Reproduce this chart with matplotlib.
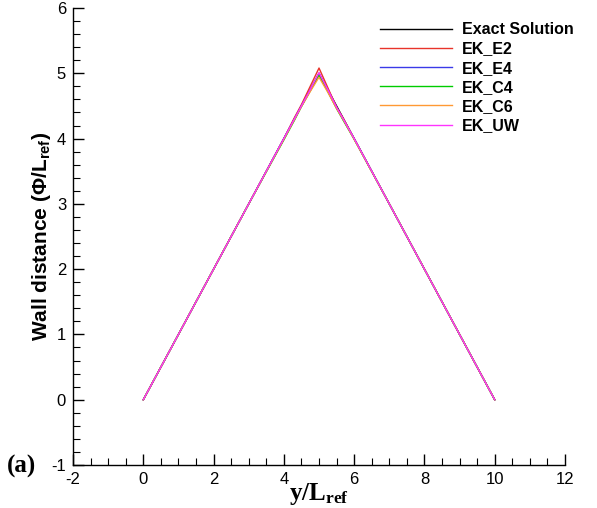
import matplotlib.pyplot as plt
import numpy as np
from matplotlib.ticker import MultipleLocator

plt.rcParams['axes.unicode_minus'] = False
plt.rcParams['mathtext.fontset'] = 'custom'
plt.rcParams['mathtext.rm'] = 'Liberation Serif'
plt.rcParams['mathtext.bf'] = 'Liberation Serif:bold'
plt.rcParams['mathtext.sf'] = 'Liberation Sans:bold'

# sampled wall-distance profiles along y
y_exact = [0.0, 5.0, 10.0]
phi_exact = [0.0, 5.0, 0.0]

y_pts = [0.0, 1.0, 2.0, 3.0, 4.0, 4.3, 4.5, 4.75, 5.0, 5.25, 5.5, 5.7, 6.0, 7.0, 8.0, 9.0, 10.0]
phi_e2 = [0.0, 1.0, 2.0, 3.0, 4.0, 4.32, 4.52, 4.8, 5.08, 4.78, 4.48, 4.3, 4.0, 3.0, 2.0, 1.0, 0.0]
phi_e4 = [0.0, 1.0, 2.0, 3.0, 4.0, 4.3, 4.5, 4.74, 5.0, 4.74, 4.47, 4.28, 4.0, 3.0, 2.0, 1.0, 0.0]
phi_c4 = [0.0, 1.0, 2.0, 3.0, 3.98, 4.28, 4.49, 4.73, 4.97, 4.72, 4.46, 4.27, 3.99, 3.0, 2.0, 1.0, 0.0]
phi_c6 = [0.0, 1.0, 2.0, 3.0, 3.99, 4.29, 4.49, 4.72, 4.94, 4.71, 4.46, 4.28, 3.99, 3.0, 2.0, 1.0, 0.0]
phi_uw = [0.0, 1.0, 2.0, 3.0, 4.0, 4.3, 4.5, 4.75, 5.01, 4.75, 4.48, 4.29, 4.0, 3.0, 2.0, 1.0, 0.0]

labels = ['Exact Solution', 'EK_E2', 'EK_E4', 'EK_C4', 'EK_C6', 'EK_UW']
colors = ['black', '#e8332a', '#3a3ae8', '#00cc00', '#ff9933', '#ff33ff']

fig = plt.figure(figsize=(5.97, 5.08), dpi=100)
ax = fig.add_axes([0.1223, 0.0846, 0.8241, 0.8997])

ax.plot(y_exact, phi_exact, color=colors[0], lw=1.0, label=labels[0])
for phi, lab, c in zip([phi_e2, phi_e4, phi_c4, phi_c6, phi_uw], labels[1:], colors[1:]):
    ax.plot(y_pts, phi, color=c, lw=1.0, label=lab)

ax.set_xlim(-2, 12)
ax.set_ylim(-1, 6)
ax.xaxis.set_major_locator(MultipleLocator(2))
ax.xaxis.set_minor_locator(MultipleLocator(0.5))
ax.yaxis.set_major_locator(MultipleLocator(1))
ax.yaxis.set_minor_locator(MultipleLocator(0.2))

for s in ['top', 'right']:
    ax.spines[s].set_visible(False)
for s in ['left', 'bottom']:
    ax.spines[s].set_linewidth(1.0)

ax.tick_params(which='major', direction='in', length=8, width=1.0,
               labelsize=12, pad=5)
ax.tick_params(which='minor', direction='in', length=4.7, width=0.8)
for t in ax.get_xticklabels() + ax.get_yticklabels():
    t.set_fontfamily('Liberation Sans')

ax.set_xlabel(r'$\mathbf{y/L_{ref}}$', fontsize=18, labelpad=-4)
ax.set_ylabel(r'Wall distance ($\mathsf{\Phi/L_{ref}}$)', fontsize=15, fontweight='bold',
              fontfamily='Liberation Sans', labelpad=-1)

fig.text(0.012, 0.069, '(a)', fontsize=18, fontweight='bold',
         fontfamily='Liberation Serif')

leg = ax.legend(loc='upper right', bbox_to_anchor=(1.047, 1.0), frameon=False,
                prop={'family': 'Liberation Sans', 'weight': 'bold', 'size': 11.5},
                handlelength=4.5, handletextpad=0.62, labelspacing=0.26)

fig.savefig('out.png', dpi=100)
